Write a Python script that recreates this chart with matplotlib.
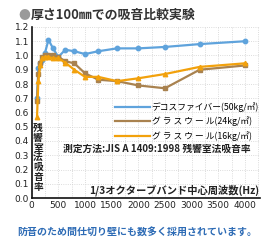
import numpy as np
import matplotlib
matplotlib.use("Agg")
import matplotlib.pyplot as plt
from matplotlib import font_manager

# 1/3 octave band centre frequencies (Hz)
freq = [100, 125, 160, 200, 250, 315, 400, 500, 630, 800, 1000, 1250, 1600, 2000, 2500, 3150, 4000]
# absorption coefficients
deco50 = [0.70, 0.91, 0.95, 0.97, 1.02, 1.11, 1.05, 0.99, 1.04, 1.03, 1.01, 1.03, 1.05, 1.05, 1.06, 1.08, 1.10]
glass24 = [0.68, 0.87, 0.95, 0.99, 1.00, 1.00, 1.00, 0.99, 0.96, 0.945, 0.875, 0.83, 0.82, 0.79, 0.77, 0.90, 0.93]
glass16 = [0.57, 0.82, 0.93, 0.98, 0.99, 0.99, 0.98, 0.98, 0.95, 0.90, 0.85, 0.85, 0.82, 0.84, 0.87, 0.92, 0.945]

labels = ["デコスファイバー(50kg/㎡)", "グ ラ ス ウ ー ル(24kg/㎡)", "グ ラ ス ウ ー ル(16kg/㎡)"]
xticks = [0, 500, 1000, 1500, 2000, 2500, 3000, 3500, 4000]
yticks = [0.0, 0.1, 0.2, 0.3, 0.4, 0.5, 0.6, 0.7, 0.8, 0.9, 1.0, 1.1, 1.2]

names = {f.name for f in font_manager.fontManager.ttflist}
numfont = "Liberation Sans Narrow" if "Liberation Sans Narrow" in names else "DejaVu Sans"
jp = ["Noto Sans CJK JP", "DejaVu Sans"]
plt.rcParams["font.family"] = jp

W, H = 267, 245
fig = plt.figure(figsize=(W / 100, H / 100), dpi=100)
x0, x1, y0, y1 = 31.7, 260, 198, 27
ax = fig.add_axes([x0 / W, 1 - y0 / H, (x1 - x0) / W, (y0 - y1) / H])

blue = "#5fa3dc"
brown = "#a9824f"
orange = "#f2a10c"

ax.plot(freq, deco50, color=blue, lw=1.6, marker="o", ms=3.2, label=labels[0], zorder=3)
ax.plot(freq, glass24, color=brown, lw=1.6, marker="s", ms=2.6, label=labels[1], zorder=3)
ax.plot(freq, glass16, color=orange, lw=1.6, marker="^", ms=3.2, label=labels[2], zorder=4)

ax.set_xlim(0, (x1 - x0) / 0.0533)
ax.set_ylim(0, 1.2)
ax.set_xticks(xticks)
ax.set_xticklabels([str(t) for t in xticks], fontfamily=numfont, fontsize=6.5)
ax.set_yticks(yticks)
ax.set_yticklabels(["%.1f" % t for t in yticks], fontfamily=numfont, fontsize=6.5)
ax.set_xticks(np.arange(0, 4300, 250), minor=True)
ax.tick_params(length=0, pad=2, colors="#222222")
ax.tick_params(which="minor", length=0)
ax.grid(True, which="both", axis="x", color="#d0d0d0", lw=0.6, ls=":")
ax.grid(True, which="major", axis="y", color="#d0d0d0", lw=0.6, ls=":")
ax.set_axisbelow(True)
for s in ["top", "right"]:
    ax.spines[s].set_visible(False)
for s in ["left", "bottom"]:
    ax.spines[s].set_linewidth(1.2)
    ax.spines[s].set_color("#111111")

leg = ax.legend(loc="upper left", bbox_to_anchor=((115 - x0) / (x1 - x0), (y0 - 102) / (y0 - y1)),
                frameon=False, fontsize=6.3, handlelength=4.0, handletextpad=0.2,
                labelspacing=0.55, borderpad=0, borderaxespad=0)
for h in leg.legend_handles:
    h.set_marker("")

fig.text(63 / W, 1 - 149 / H, "測定方法:JIS A 1409:1998 残響室法吸音率", fontsize=7,
         fontweight="bold", color="#222222", va="center", ha="left")
fig.text(259 / W, 1 - 190 / H, "1/3オクターブバンド中心周波数(Hz)", fontsize=7.4,
         fontweight="bold", color="#222222", va="center", ha="right")
fig.text(38 / W, 1 - 123 / H, "\n".join("残響室法吸音率"), fontsize=7.0,
         fontweight="bold", color="#222222", va="top", ha="center", linespacing=0.97)

fig.text(18 / W, 1 - 15 / H, "●", fontsize=8.5, color="#9a9a9a", va="center", ha="left")
fig.text(31 / W, 1 - 15 / H, "厚さ100㎜での吸音比較実験", fontsize=9.3,
         fontweight="bold", color="#333333", va="center", ha="left")
fig.text(137 / W, 1 - 232 / H, "防音のため間仕切り壁にも数多く採用されています。", fontsize=7.2,
         fontweight="bold", color="#2d6bb5", va="center", ha="center")

fig.savefig("out.png", dpi=100)
